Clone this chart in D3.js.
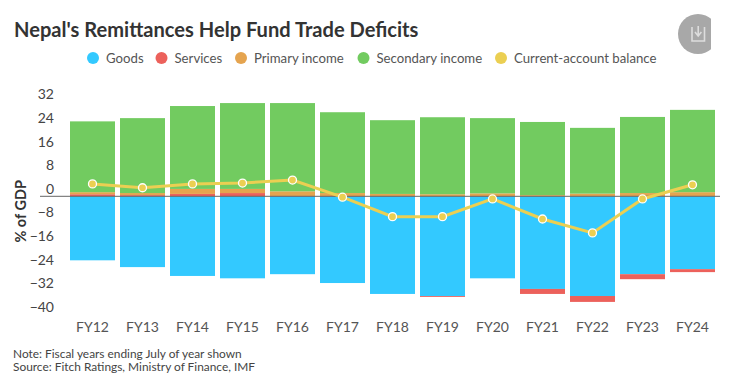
<!DOCTYPE html>
<html>
<head>
<meta charset="utf-8">
<script src="https://cdn.jsdelivr.net/npm/d3@7"></script>
<style>
  html, body { margin: 0; padding: 0; background: #fff; }
  svg { display: block; font-family: Lato, sans-serif; }
</style>
</head>
<body>
<svg id="chart" width="753" height="383"></svg>
<script>
const years = ['FY12','FY13','FY14','FY15','FY16','FY17','FY18','FY19','FY20','FY21','FY22','FY23','FY24']
const goods = [-21.7,-24,-27,-27.8,-26.4,-29.4,-33.1,-33.8,-27.8,-31.4,-33.8,-26.4,-24.7]
const services = [0.7,0.4,0.8,1.1,0.1,0.1,0.1,-0.3,0.1,-1.7,-2,-1.7,-1]
const primary = [0.7,0.7,1.7,1.4,1.6,1,0.7,0.7,0.9,0.4,0.9,1.1,1.4]
const secondary = [24,25.4,28.1,29.1,29.9,27.4,25,26.1,25.5,24.8,22.3,25.8,27.9]
const balance = [4.2,2.9,4.2,4.5,5.5,-0.3,-6.9,-6.9,-0.9,-7.7,-12.4,-0.9,3.9]
const yTicks = [32,24,16,8,0,-8,-16,-24,-32,-40]
const seriesNames = ['Goods','Services','Primary income','Secondary income','Current-account balance']
const seriesColors = ['#33c9ff','#ec615b','#e5a44f','#72cb60','#ebcf52']

const svg = d3.select('#chart')
const color = d3.scaleOrdinal().domain(seriesNames).range(seriesColors)

const x = d3.scaleBand().domain(years).range([67.5, 717.5]).paddingInner(0.1).paddingOuter(0.05)
const y = d3.scaleLinear().domain([32, -40]).range([101.9, 314.3])

// title
svg.append('text')
  .attr('x', 14).attr('y', 37)
  .attr('font-size', 20.1).attr('font-weight', 700).attr('fill', '#333')
  .text("Nepal's Remittances Help Fund Trade Deficits")

// download button
svg.append('clipPath').attr('id', 'btnclip')
  .append('rect').attr('x', 670).attr('y', 0).attr('width', 41).attr('height', 70)
const btn = svg.append('g').attr('clip-path', 'url(#btnclip)')
btn.append('circle').attr('cx', 698).attr('cy', 34).attr('r', 20).attr('fill', '#a8a8a8')
btn.append('path')
  .attr('d', 'M692 27v14h12.500v-14')
  .attr('fill', 'none').attr('stroke', '#ddd').attr('stroke-width', 1.6)
btn.append('path')
  .attr('d', 'M698.200 26v9M695 32l3.200 4 3.200-4')
  .attr('fill', 'none').attr('stroke', '#ddd').attr('stroke-width', 1.6)

// legend
const legendX = [93, 161.5, 241, 363.5, 501]
const legend = svg.append('g').selectAll('g').data(seriesNames).enter().append('g')
  .attr('transform', (d, i) => `translate(${legendX[i]},58)`)
legend.append('circle').attr('r', 6).attr('fill', d => color(d))
legend.append('text')
  .attr('x', 13).attr('dy', '0.35em')
  .attr('font-size', 13.2).attr('fill', '#555')
  .text(d => d)

// stacked bars, negatives stack down from zero
const rows = years.map((year, i) => ({
  year,
  Goods: goods[i],
  Services: services[i],
  'Primary income': primary[i],
  'Secondary income': secondary[i]
}))
const stacked = d3.stack()
  .keys(seriesNames.slice(0, 4))
  .offset(d3.stackOffsetDiverging)(rows)

svg.append('g').selectAll('g').data(stacked).enter().append('g')
  .attr('fill', d => color(d.key))
  .selectAll('rect').data(d => d).enter().append('rect')
  .attr('x', d => x(d.data.year))
  .attr('width', x.bandwidth())
  .attr('y', d => y(d[1]))
  .attr('height', d => y(d[0]) - y(d[1]))

// axes
const yAxis = svg.append('g')
  .attr('transform', 'translate(58,0)')
  .call(d3.axisLeft(y).tickValues(yTicks).tickSize(0).tickPadding(4))
yAxis.select('.domain').remove()
yAxis.selectAll('text')
  .attr('font-family', 'Lato, sans-serif').attr('font-size', 14).attr('fill', '#444')
  .attr('dy', '-0.22em')

const xAxis = svg.append('g')
  .attr('transform', 'translate(0,314)')
  .call(d3.axisBottom(x).tickSize(0).tickPadding(8))
xAxis.select('.domain').remove()
xAxis.selectAll('text')
  .attr('font-family', 'Lato, sans-serif').attr('font-size', 14).attr('fill', '#555')

svg.append('line')
  .attr('x1', 40).attr('x2', 720)
  .attr('y1', y(0)).attr('y2', y(0))
  .attr('stroke', '#666').attr('stroke-width', 1)

svg.append('text')
  .attr('transform', `translate(26,${y(0) + 15}) rotate(-90)`)
  .attr('text-anchor', 'middle')
  .attr('font-size', 14.500).attr('font-weight', 700).attr('fill', '#333')
  .text('% of GDP')

// current-account line
const line = d3.line()
  .x((d, i) => x(years[i]) + x.bandwidth() / 2)
  .y(d => y(d))
svg.append('path')
  .attr('d', line(balance))
  .attr('fill', 'none').attr('stroke', seriesColors[4]).attr('stroke-width', 3)
svg.append('g').selectAll('circle').data(balance).enter().append('circle')
  .attr('cx', (d, i) => x(years[i]) + x.bandwidth() / 2)
  .attr('cy', d => y(d))
  .attr('r', 4)
  .attr('fill', seriesColors[4]).attr('stroke', '#fff').attr('stroke-width', 1.3)

// footnotes
const notes = ['Note: Fiscal years ending July of year shown', 'Source: Fitch Ratings, Ministry of Finance, IMF']
svg.append('g').selectAll('text').data(notes).enter().append('text')
  .attr('x', 13).attr('y', (d, i) => 358 + i * 13)
  .attr('font-size', 11.9).attr('fill', '#444')
  .text(d => d)
</script>
</body>
</html>
